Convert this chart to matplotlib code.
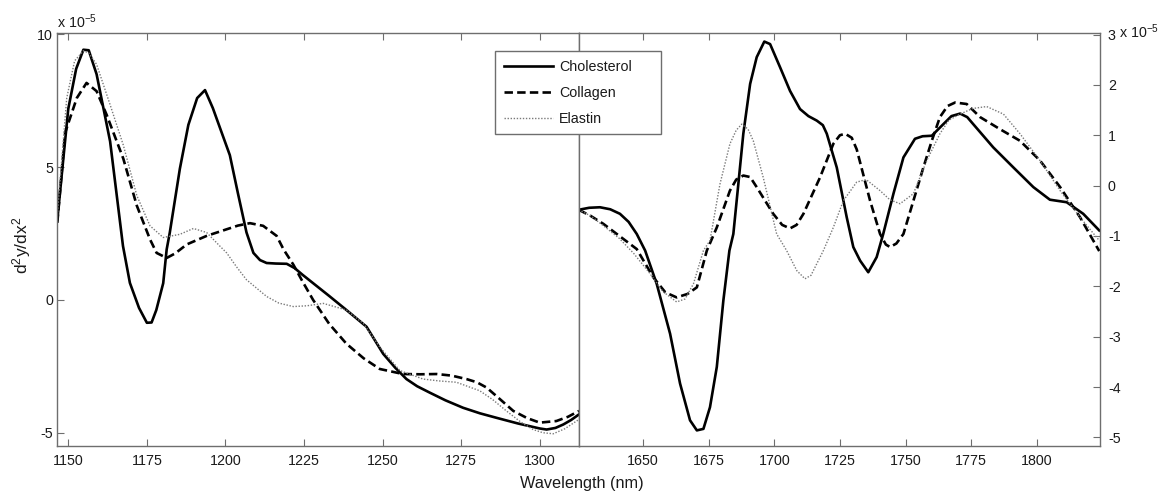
import matplotlib
matplotlib.use("Agg")
import matplotlib.pyplot as plt
from matplotlib.lines import Line2D
from matplotlib.patches import Rectangle

plt.rcParams["font.family"] = ["Liberation Sans", "DejaVu Sans"]
plt.rcParams["axes.unicode_minus"] = False
plt.rcParams["mathtext.fontset"] = "custom"
plt.rcParams["mathtext.rm"] = "Liberation Sans"
plt.rcParams["mathtext.it"] = "Liberation Sans"
plt.rcParams["mathtext.default"] = "regular"

# Second-derivative spectra (units of 1e-5), first overtone region 1146-1313 nm
chol_a_wl = [1146.5, 1148.4, 1150.0, 1152.5, 1154.8, 1156.5, 1159.0, 1163.3, 1167.4, 1169.6,
             1172.5, 1175.0, 1176.5, 1178.0, 1180.2, 1181.3, 1182.3, 1185.5, 1188.2, 1191.0,
             1193.5, 1196.0, 1198.5, 1201.4, 1204.0, 1206.7, 1208.9, 1211.0, 1213.1, 1216.0,
             1219.5, 1222.0, 1224.5, 1227.9, 1233.0, 1238.5, 1244.9, 1250.2, 1254.0, 1257.6,
             1261.0, 1265.0, 1270.0, 1275.6, 1281.0, 1286.3, 1293.0, 1300.0, 1302.2, 1305.0,
             1307.5, 1310.0, 1312.5]
chol_a_val = [3.0, 5.3, 7.2, 8.7, 9.42, 9.4, 8.5, 5.97, 2.03, 0.64,
              -0.3, -0.86, -0.85, -0.38, 0.63, 1.9, 2.54, 4.94, 6.59, 7.6,
              7.9, 7.22, 6.4, 5.45, 4.0, 2.54, 1.77, 1.5, 1.39, 1.37,
              1.36, 1.2, 0.95, 0.63, 0.15, -0.38, -1.01, -2.03, -2.55, -2.98,
              -3.25, -3.49, -3.78, -4.06, -4.27, -4.44, -4.65, -4.84, -4.88, -4.82,
              -4.69, -4.52, -4.31]

coll_a_wl = [1146.5, 1149.0, 1152.7, 1155.8, 1159.0, 1162.2, 1167.5, 1171.8, 1176.0, 1178.1,
             1181.3, 1184.0, 1187.7, 1194.0, 1200.4, 1204.0, 1207.8, 1212.0, 1216.3, 1218.5,
             1221.6, 1224.5, 1227.9, 1233.0, 1238.5, 1244.0, 1249.1, 1256.5, 1262.0, 1267.2,
             1272.0, 1276.7, 1280.0, 1283.1, 1287.0, 1291.6, 1296.0, 1300.0, 1305.3, 1309.0,
             1312.5]
coll_a_val = [2.9, 6.3, 7.6, 8.17, 7.86, 6.97, 5.32, 3.55, 2.28, 1.77,
              1.58, 1.75, 2.09, 2.41, 2.66, 2.8, 2.89, 2.79, 2.41, 1.9,
              1.33, 0.7, 0.0, -0.9, -1.65, -2.2, -2.6, -2.79, -2.8, -2.79,
              -2.85, -2.98, -3.1, -3.3, -3.7, -4.18, -4.45, -4.62, -4.56, -4.4,
              -4.18]

elas_a_wl = [1146.5, 1149.5, 1152.0, 1154.8, 1156.5, 1159.0, 1163.3, 1167.5, 1171.8, 1176.0,
             1180.2, 1185.5, 1189.8, 1194.0, 1198.2, 1200.4, 1203.5, 1206.7, 1213.1, 1217.0,
             1221.6, 1226.0, 1231.1, 1238.5, 1243.9, 1249.1, 1255.5, 1262.9, 1268.0, 1273.5,
             1280.9, 1285.0, 1289.4, 1294.0, 1297.9, 1301.0, 1304.3, 1308.0, 1312.5]
elas_a_val = [3.2, 7.6, 9.0, 9.38, 9.3, 8.87, 7.35, 5.83, 3.93, 2.79,
              2.35, 2.47, 2.69, 2.54, 2.03, 1.77, 1.25, 0.76, 0.13, -0.12,
              -0.25, -0.22, -0.13, -0.38, -0.89, -1.77, -2.66, -2.98, -3.05, -3.1,
              -3.42, -3.75, -4.18, -4.6, -4.88, -5.0, -5.04, -4.85, -4.5]

# Second-derivative spectra (units of 1e-5), 1625-1825 nm region
chol_b_wl = [1625.5, 1629.5, 1633.6, 1637.5, 1641.2, 1644.5, 1647.6, 1650.8, 1655.2, 1660.3,
             1664.1, 1667.9, 1670.5, 1673.0, 1675.5, 1678.1, 1680.6, 1682.9, 1684.4, 1686.3,
             1688.2, 1690.8, 1693.3, 1696.2, 1698.4, 1702.2, 1706.0, 1709.8, 1713.0, 1716.2,
             1718.5, 1720.0, 1723.8, 1727.6, 1730.1, 1732.7, 1735.8, 1739.0, 1741.5, 1745.4,
             1749.2, 1753.6, 1756.5, 1760.0, 1764.4, 1767.5, 1770.8, 1773.5, 1775.8, 1783.4,
             1791.1, 1798.7, 1805.0, 1811.4, 1817.7, 1823.8]
chol_b_val = [-0.48, -0.44, -0.43, -0.47, -0.56, -0.72, -0.96, -1.29, -1.95, -2.94,
              -3.93, -4.66, -4.86, -4.83, -4.4, -3.6, -2.28, -1.29, -0.96, 0.03,
              1.03, 2.02, 2.55, 2.86, 2.81, 2.35, 1.88, 1.52, 1.38, 1.29,
              1.2, 1.03, 0.36, -0.63, -1.22, -1.49, -1.72, -1.42, -0.96, -0.16,
              0.56, 0.93, 0.98, 0.99, 1.22, 1.38, 1.43, 1.36, 1.22, 0.76,
              0.36, -0.03, -0.28, -0.33, -0.56, -0.89]

coll_b_wl = [1625.5, 1630.0, 1634.9, 1641.0, 1647.6, 1653.9, 1658.5, 1662.8, 1667.0, 1670.5,
             1674.3, 1678.1, 1683.1, 1685.5, 1688.2, 1690.8, 1693.3, 1699.6, 1703.0, 1706.0,
             1708.5, 1711.1, 1717.4, 1722.5, 1725.0, 1727.0, 1729.5, 1731.4, 1733.5, 1736.5,
             1740.3, 1742.5, 1744.1, 1746.5, 1749.2, 1753.0, 1756.8, 1760.0, 1763.1, 1766.0,
             1768.9, 1773.3, 1778.4, 1786.0, 1793.6, 1801.2, 1808.9, 1816.5, 1823.8]
coll_b_val = [-0.48, -0.6, -0.76, -1.0, -1.26, -1.82, -2.12, -2.22, -2.15, -2.02,
              -1.29, -0.83, -0.1, 0.12, 0.2, 0.17, -0.03, -0.56, -0.78, -0.85,
              -0.78, -0.56, 0.16, 0.83, 1.0, 1.03, 0.95, 0.72, 0.3, -0.3,
              -0.96, -1.17, -1.22, -1.15, -0.96, -0.3, 0.36, 0.89, 1.36, 1.58,
              1.65, 1.62, 1.36, 1.12, 0.89, 0.5, -0.03, -0.63, -1.3]

elas_b_wl = [1625.5, 1630.0, 1635.0, 1641.0, 1646.5, 1652.7, 1657.5, 1662.8, 1666.0, 1669.2,
             1673.0, 1675.5, 1679.3, 1683.1, 1685.5, 1687.6, 1690.0, 1692.0, 1695.8, 1700.9,
             1704.7, 1708.6, 1711.7, 1714.0, 1716.2, 1718.7, 1722.5, 1726.3, 1731.4, 1735.0,
             1740.3, 1744.0, 1747.9, 1753.0, 1758.1, 1763.1, 1766.5, 1770.8, 1775.5, 1780.9,
             1787.3, 1793.6, 1801.2, 1808.9, 1816.5, 1823.8]
elas_b_val = [-0.48, -0.6, -0.8, -1.05, -1.35, -1.75, -2.1, -2.31, -2.25, -1.95,
              -1.29, -1.09, 0.03, 0.83, 1.1, 1.22, 1.12, 0.89, 0.16, -0.96,
              -1.29, -1.69, -1.85, -1.78, -1.55, -1.29, -0.83, -0.3, 0.07, 0.12,
              -0.1, -0.28, -0.36, -0.16, 0.5, 1.03, 1.3, 1.42, 1.53, 1.57,
              1.42, 1.03, 0.5, -0.1, -0.63, -1.09]

left_xticks = [1150, 1175, 1200, 1225, 1250, 1275, 1300]
left_yticks = [-5, 0, 5, 10]
right_xticks = [1650, 1675, 1700, 1725, 1750, 1775, 1800]
right_yticks = [-5, -4, -3, -2, -1, 0, 1, 2, 3]

series_names = ["Cholesterol", "Collagen", "Elastin"]

W, H = 1165, 494
fig = plt.figure(figsize=(W / 100, H / 100), dpi=100)

x0, xm, x1 = 57.3, 579.0, 1100.3
ytop, ybot = 33.0, 446.0
axl = fig.add_axes([x0 / W, 1 - ybot / H, (xm - x0) / W, (ybot - ytop) / H])
axr = fig.add_axes([xm / W, 1 - ybot / H, (x1 - xm) / W, (ybot - ytop) / H])

spine_col = "#6e6e6e"
text_col = "#1a1a1a"
tick_fs = 10.3

styles = [
    dict(color="black", lw=1.9, ls="-"),
    dict(color="black", lw=1.9, ls=(0, (3.2, 1.6))),
    dict(color="#7a7a7a", lw=1.0, ls=(0, (1, 1.2))),
]

for wl, val, st in zip([chol_a_wl, coll_a_wl, elas_a_wl],
                       [chol_a_val, coll_a_val, elas_a_val], styles):
    axl.plot(wl, val, **st)
for wl, val, st in zip([chol_b_wl, coll_b_wl, elas_b_wl],
                       [chol_b_val, coll_b_val, elas_b_val], styles):
    axr.plot(wl, val, **st)

axl.set_xlim(1146.5, 1312.5)
axl.set_ylim(-5.5, 10.05)
axr.set_xlim(1625.6, 1824.2)
axr.set_ylim(-5.17, 3.03)

for ax in (axl, axr):
    for s in ax.spines.values():
        s.set_color(spine_col)
        s.set_linewidth(1.0)
    ax.tick_params(direction="in", length=5, color=spine_col, labelcolor=text_col,
                   labelsize=tick_fs, top=True)

axl.set_xticks(left_xticks)
axl.set_yticks(left_yticks)
axl.tick_params(axis="x", pad=5.5)
axl.tick_params(axis="y", pad=3, right=False)

axr.set_xticks(right_xticks)
axr.set_yticks(right_yticks)
axr.yaxis.tick_right()
axr.tick_params(axis="x", pad=5.5)
axr.tick_params(axis="y", direction="in", length=5, pad=5.5, left=False, right=True,
                labelleft=False, labelright=True)

# exponent annotations
fig.text(57 / W, 1 - 28 / H, r"x 10$^{-5}$", fontsize=tick_fs, color=text_col,
         ha="left", va="baseline")
fig.text(1119 / W, 1 - 38 / H, r"x 10$^{-5}$", fontsize=tick_fs, color=text_col,
         ha="left", va="baseline")

fig.text(22 / W, 1 - 245 / H, r"d$^2$y/dx$^2$", rotation=90, fontsize=12.5,
         color=text_col, ha="center", va="center")
fig.text(582 / W, 1 - 483 / H, "Wavelength (nm)", fontsize=11.7, color=text_col,
         ha="center", va="center")

# legend with a fixed-size frame
fig.patches.append(Rectangle((495.3 / W, 1 - 134.3 / H), (660.7 - 495.3) / W,
                             (134.3 - 50.7) / H, transform=fig.transFigure,
                             facecolor="white", edgecolor=spine_col, lw=1.0, zorder=5))
handles = [Line2D([], [], **st) for st in styles]
leg = fig.legend(handles, series_names, loc="upper left",
                 bbox_to_anchor=(495.3 / W, 1 - 50.7 / H), borderaxespad=0,
                 frameon=False, fontsize=10.3, handlelength=3.4, handletextpad=0.4,
                 labelspacing=0.83, borderpad=0.64)
leg.set_zorder(6)
for t in leg.get_texts():
    t.set_color(text_col)

fig.savefig("out.png", dpi=100, facecolor="white")
